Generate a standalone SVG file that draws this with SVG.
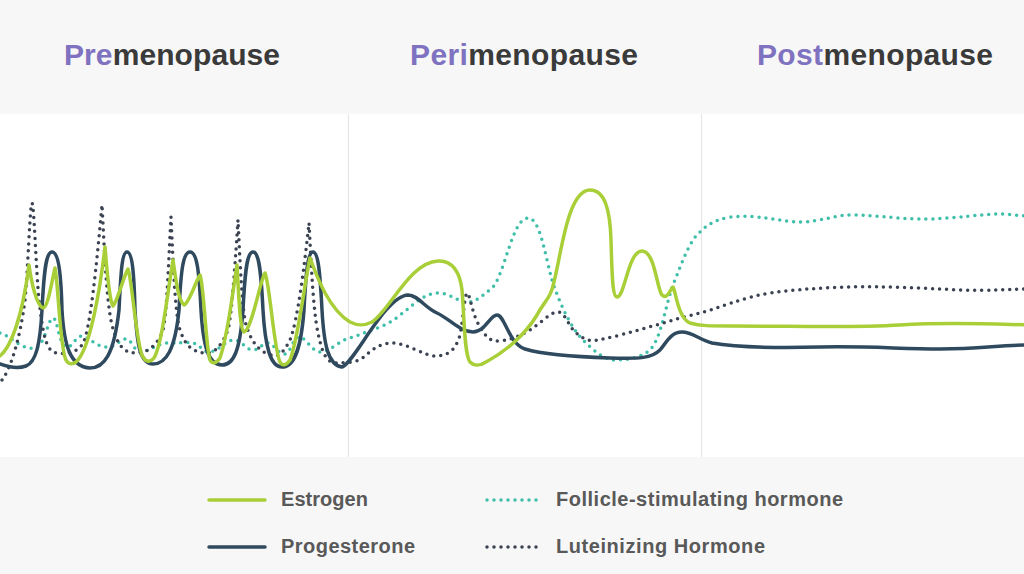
<svg xmlns="http://www.w3.org/2000/svg" width="1024" height="574" viewBox="0 0 1024 574">
<style>
.title{font-family:"Liberation Sans",Arial,sans-serif;font-weight:bold;font-size:30px;fill:#3a3a3a}
.pre{fill:#7f72c0}
.leg{font-family:"Liberation Sans",Arial,sans-serif;font-weight:bold;font-size:20px;fill:#595959}
.est{fill:none;stroke:#a9cf38;stroke-width:3.5;stroke-linecap:round;stroke-linejoin:round}
.prog{fill:none;stroke:#2f4a5e;stroke-width:3.5;stroke-linecap:round;stroke-linejoin:round}
.fsh{fill:none;stroke:#3fbfa9;stroke-width:3.5;stroke-linecap:round;stroke-dasharray:0 7}
.lh{fill:none;stroke:#3b4252;stroke-width:3.5;stroke-linecap:round;stroke-dasharray:0 7}
.div{stroke:#e6e6e6;stroke-width:1.2}
</style>
<rect x="0" y="0" width="1024" height="574" fill="#ffffff"/>
<rect x="0" y="0" width="1024" height="114" fill="#f7f7f7"/>
<rect x="0" y="457" width="1024" height="117" fill="#f7f7f7"/>
<g id="dividers">
<line class="div" x1="348.5" y1="114" x2="348.5" y2="457"/>
<line class="div" x1="701.5" y1="114" x2="701.5" y2="457"/>
</g>
<g id="titles">
<text class="title" x="64" y="65" textLength="216"><tspan class="pre">Pre</tspan>menopause</text>
<text class="title" x="410" y="65" textLength="228"><tspan class="pre">Peri</tspan>menopause</text>
<text class="title" x="757" y="65" textLength="236"><tspan class="pre">Post</tspan>menopause</text>
</g>
<g id="connectors">
<path id="fsh" class="fsh" d="M0,333 C10,335 20,350 35,348 C45,346 48,318 53,318 C58,318 58,345 67,347 C72,348 76,336 82,336 C88,336 95,347 108,347 C116,347 120,339 126,339 C132,339 134,353 142,352 C150,351 158,343 168,343 C178,343 186,342 193,343 C200,344 203,353 210,352 C220,350 226,340 234,340 C242,340 246,350 253,350 C260,350 262,343 268,343 C274,343 278,355 285,354 C291,353 293,337 299,337 C306,337 312,352 320,352 C330,352 340,340 350,338 C362,334 372,330 385,325 C405,315 420,293 438,293 C450,293 458,302 467,302 C476,302 482,296 492,288 C505,275 512,218 528,218 C540,218 545,255 552,280 C560,305 572,330 585,342 C595,352 605,360 615,360 C628,360 640,358 650,350 C662,338 666,300 675,280 C683,260 690,240 700,232 C708,224 715,220 730,217 C760,214 780,222 800,222 C820,222 835,215 850,215 C880,215 905,220 930,219 C960,218 980,214 1000,214 C1010,214 1020,216 1030,216"/>
<path id="lh" class="lh" d="M2,380 C10,370 20,340 25,300 C28,270 30,203 32,203 C34,203 36,270 39,300 C43,335 46,352 57,353 C65,354 75,354 82,345 C90,335 97,260 102,205 C104,240 106,300 112,325 C118,348 125,353 137,353 C147,353 158,345 163,330 C167,315 169,250 171,217 C173,260 175,315 180,330 C185,345 192,352 205,353 C215,354 222,345 228,330 C232,315 236,250 238,220 C240,260 242,315 247,328 C252,342 258,350 268,354 C278,358 282,355 290,340 C298,320 305,260 309,223 C311,260 313,310 318,333 C322,352 326,362 335,363 C342,363 350,363 360,360 C370,352 378,343 392,343 C408,343 425,357 437,356 C447,355 455,352 460,335 C463,320 465,293 467,293 C470,293 472,315 480,327 C486,337 490,342 500,341 C510,340 520,336 530,330 C540,324 550,312 558,312 C565,312 568,325 575,332 C582,338 588,342 598,340 C630,334 670,320 700,313 C720,308 740,298 770,293 C800,289 820,288 850,287 C880,286 920,288 960,290 C990,291 1010,289 1030,289"/>
<path id="progesterone" class="prog" d="M0,364 C8,367 18,369 26,366 C36,362 40,345 42,310 C44,270 46,252 52,252 C58,252 61,270 62,310 C64,345 70,367 90,368 C104,368 114,355 119,310 C121,270 122,252 127,252 C132,252 134,270 135,310 C137,345 140,364 153,364 C166,364 175,350 179,310 C181,270 183,252 190,252 C197,252 199,270 201,310 C203,345 208,365 222,365 C234,365 240,350 243,310 C245,270 247,252 253,252 C259,252 261,270 263,310 C265,345 270,367 282,367 C294,367 301,350 304,310 C306,270 308,252 313,252 C318,252 320,270 322,310 C324,345 328,365 342,367 C355,362 385,296 408,295 C418,295 425,308 437,313 C450,319 460,332 473,332 C485,332 490,315 497,315 C505,315 508,343 525,349 C545,355 580,357 610,358 C640,359 652,358 660,350 C668,340 672,332 682,332 C692,332 700,340 712,343 C740,348 780,348 820,347 C870,346 900,349 940,349 C980,349 1000,345 1030,345"/>
<path id="estrogen" class="est" d="M0,356 C10,348 22,320 29,265 C31,280 36,305 43,308 C48,308 52,280 55,268 C58,280 60,350 66,360 C68,364 72,365 76,362 C90,350 100,290 105,247 C107,270 109,300 113,306 C118,300 124,275 128,269 C132,280 136,340 142,355 C145,362 150,363 154,358 C162,345 168,290 173,260 C176,280 178,300 184,305 C190,302 196,280 200,275 C204,285 206,350 210,360 C212,364 216,364 220,358 C228,335 233,290 237,265 C239,300 240,330 244,332 C252,330 260,280 265,273 C270,285 274,350 280,362 C282,366 286,366 290,360 C298,340 305,280 310,258 C318,280 330,310 350,322 C358,326 364,326 372,322 C390,310 410,262 438,261 C452,260 460,272 462,290 C464,310 464,355 470,362 C474,366 480,366 486,362 C505,352 525,335 537,315 C542,305 548,300 551,292 C560,270 565,190 590,190 C605,190 610,210 611,240 C612,270 612,297 617,297 C625,297 628,251 642,251 C655,251 657,290 662,295 C667,300 670,290 673,287 C676,292 678,318 690,323 C700,326 710,326 730,326 C800,326 850,328 900,325 C950,322 990,324 1030,325"/>
</g>
<g id="legend">
<g id="leg-estrogen">
<line class="est" x1="209" y1="500" x2="265" y2="500"/>
<text class="leg" x="281" y="506" textLength="87">Estrogen</text>
</g>
<g id="leg-progesterone">
<line class="prog" x1="209" y1="547" x2="265" y2="547"/>
<text class="leg" x="281" y="553" textLength="134">Progesterone</text>
</g>
<g id="leg-fsh">
<line class="fsh" x1="487" y1="500" x2="543" y2="500"/>
<text class="leg" x="556" y="506" textLength="287">Follicle-stimulating hormone</text>
</g>
<g id="leg-lh">
<line class="lh" x1="487" y1="547" x2="543" y2="547"/>
<text class="leg" x="556" y="553" textLength="209">Luteinizing Hormone</text>
</g>
</g>
</svg>
